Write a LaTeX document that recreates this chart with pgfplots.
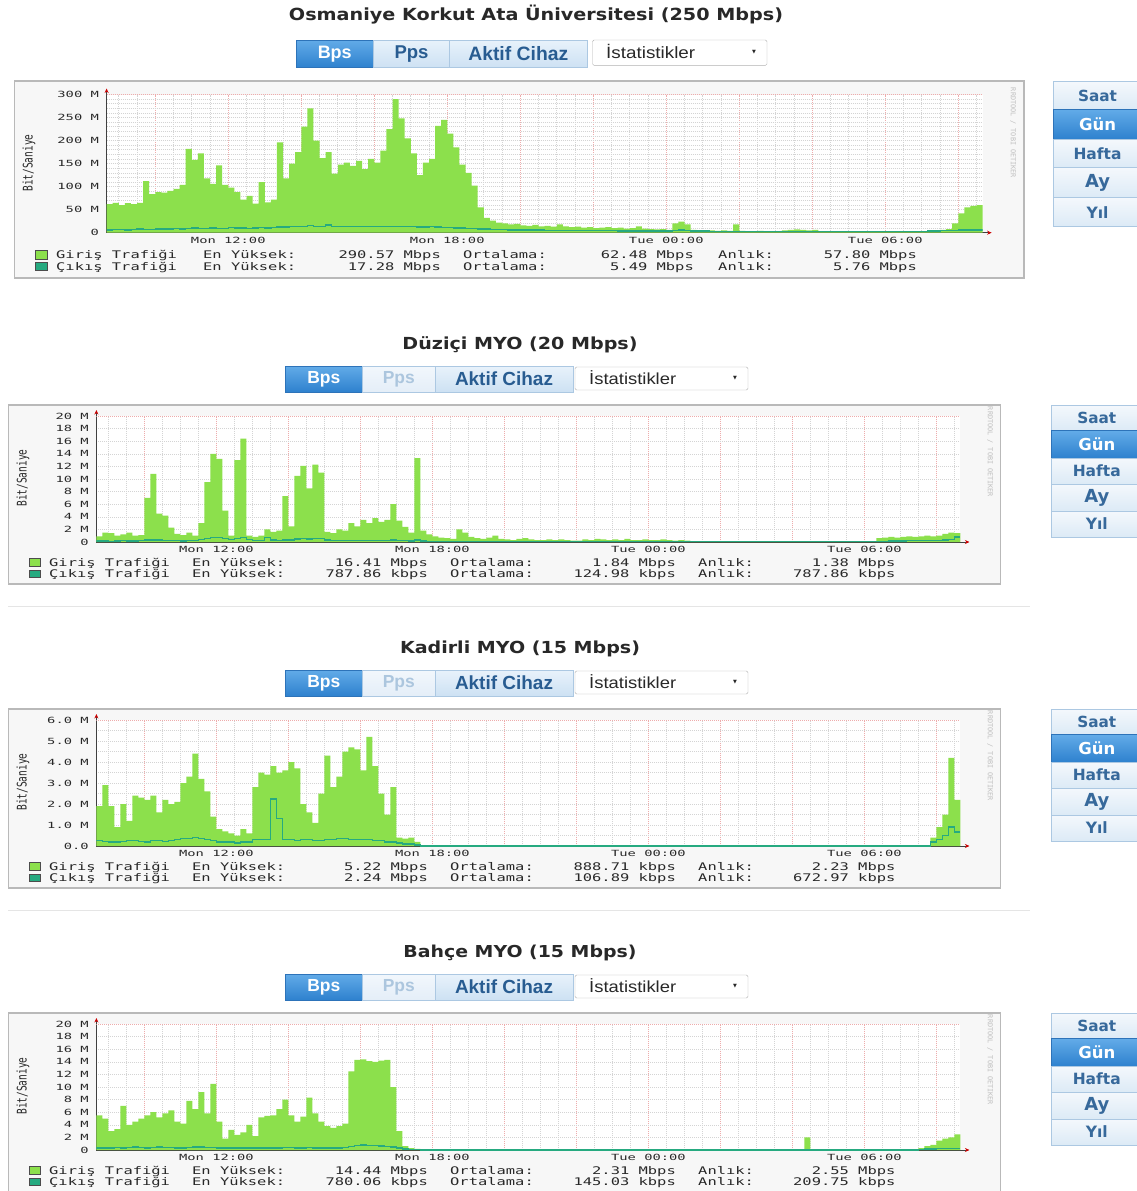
\documentclass[border=0pt]{standalone}
\usepackage{graphicx}
\usepackage{pgfplots}
\usepackage{pgfplotstable}
\pgfplotsset{compat=1.18}
\usetikzlibrary{arrows.meta}
\usepackage{fontspec}
\setmainfont{DejaVu Sans}
\newfontfamily\legf[FakeStretch=1.47]{DejaVu Sans Mono}
\newfontfamily\tickf[FakeStretch=1.62]{DejaVu Sans Mono}
\newfontfamily\monof{DejaVu Sans Mono}
\newfontfamily\ttlf[FakeStretch=1.15]{DejaVu Sans}
\newfontfamily\btnf[FakeStretch=1.0]{Liberation Sans}
\newfontfamily\ddf[FakeStretch=1.15]{Liberation Sans}
\newfontfamily\rbf[FakeStretch=1.0]{DejaVu Sans}
\newfontfamily\symf{DejaVu Sans}

\definecolor{gir}{RGB}{140,224,76}
\definecolor{cik}{RGB}{38,170,128}
\definecolor{majgrid}{RGB}{238,172,172}
\definecolor{mingrid}{RGB}{212,212,212}
\definecolor{framebg}{RGB}{247,247,247}
\definecolor{frameln}{RGB}{185,185,185}
\definecolor{bA1}{RGB}{98,171,232}
\definecolor{bA2}{RGB}{46,129,206}
\definecolor{bAb}{RGB}{45,115,185}
\definecolor{bL1}{RGB}{232,242,251}
\definecolor{bL2}{RGB}{205,225,243}
\definecolor{bLb}{RGB}{172,200,226}
\definecolor{bLt}{RGB}{40,92,145}
\definecolor{bD1}{RGB}{242,247,252}
\definecolor{bD2}{RGB}{228,238,248}
\definecolor{bDt}{RGB}{172,198,222}
\definecolor{bR1}{RGB}{244,248,252}
\definecolor{bR2}{RGB}{220,234,246}
\definecolor{bRt}{RGB}{55,105,155}
\definecolor{txt}{RGB}{40,40,40}

\newcommand\fitw[2]{\resizebox{#1}{!}{#2}}
\newcommand\LG{\legf\fontsize{10.5}{11}\selectfont}
\newcommand\TK{\tickf\fontsize{8.5}{9}\selectfont}
\newcommand\lt[4]{\node[anchor=#1,inner sep=0pt,text=txt] at (#2,-#3) {\LG #4};}
\newcommand\btn[8]{%
  \shade[top color=#5,bottom color=#6] (#1,-#2) rectangle (#3,-#4);
  \draw[#7,line width=0.8pt] (#1,-#2) rectangle (#3,-#4);
  \node[inner sep=0pt] at ({(#1+#3)/2},{-(#2+#4)/2}) {#8};}
% right buttons: x1, y1, y2, text, width, active
\newcommand\rb[6]{%
  \ifnum#6=1
    \btn{#1}{#2}{1142}{#3}{bA1}{bA2}{bAb}{\fitw{#5pt}{\rbf\bfseries\color{white}#4}}%
  \else
    \btn{#1}{#2}{1142}{#3}{bR1}{bR2}{bLb}{\fitw{#5pt}{\rbf\bfseries\color{bRt}#4}}%
  \fi}

% decorations of panels 2-4 (coordinates of panel 2, shifted by #1)
\newcommand\decor[9]{%
\begin{scope}[x=1pt,y=1pt,shift={(0,-#1)}]
  \node[text=txt] at (520,-345) {\fitw{#3}{\ttlf\bfseries #2}};
  \btn{285}{366}{362.6}{392}{bA1}{bA2}{bAb}{\fitw{33pt}{\btnf\bfseries\color{white}Bps}}
  \btn{362.6}{366}{435}{392}{bD1}{bD2}{bLb}{\fitw{32pt}{\btnf\bfseries\color{bDt}Pps}}
  \btn{435}{366}{573}{392}{bL1}{bL2}{bLb}{\fitw{98pt}{\btnf\bfseries\color{bLt}Aktif Cihaz}}
  \draw[fill=white,draw=black!30,rounded corners=1.5pt] (575,-367) rectangle (748,-390);
  \node[anchor=west,inner sep=0pt,text=txt] at (589,-377.5) {\fitw{87pt}{\ddf İstatistikler}};
  \node[inner sep=0pt,text=txt] at (735,-378) {\symf\fontsize{5}{5}\selectfont ▼};
  \draw[fill=framebg,draw=frameln,line width=1.3pt] (8.7,-405) rectangle (1000.7,-584);
  \node[rotate=90,text=txt] at (23,-478) {\scalebox{1}[1.4]{\monof\fontsize{9.5}{10}\selectfont Bit/Saniye}};
  \node[rotate=-90,text=black!25] at (990,-452) {\monof\fontsize{6.8}{7}\selectfont RRDTOOL / TOBI OETIKER};
  \draw[fill=gir,draw=black!70,line width=0.6pt] (29,-558.3) rectangle (40,-566);
  \draw[fill=cik,draw=black!70,line width=0.6pt] (29,-570) rectangle (40,-577.3);
  \lt{base west}{49}{566.1}{Giriş Trafiği}
  \lt{base west}{192}{566.1}{En Yüksek:}
  \lt{base east}{428}{566.1}{#4}
  \lt{base west}{450}{566.1}{Ortalama:}
  \lt{base east}{676}{566.1}{#5}
  \lt{base west}{698}{566.1}{Anlık:}
  \lt{base east}{895.6}{566.1}{#6}
  \lt{base west}{49}{577.5}{Çıkış Trafiği}
  \lt{base west}{192}{577.5}{En Yüksek:}
  \lt{base east}{428}{577.5}{#7}
  \lt{base west}{450}{577.5}{Ortalama:}
  \lt{base east}{676}{577.5}{#8}
  \lt{base west}{698}{577.5}{Anlık:}
  \lt{base east}{895.6}{577.5}{#9}
  \rb{1051.5}{405}{430.7}{Saat}{39}{0}
  \rb{1051.5}{430.7}{458}{Gün}{37}{1}
  \rb{1051.5}{458}{484}{Hafta}{48}{0}
  \rb{1051.5}{484}{511}{Ay}{25}{0}
  \rb{1051.5}{511}{537}{Yıl}{22}{0}
\end{scope}}

\pgfplotsset{rrd/.style={
  scale only axis, xmin=0, xmax=144, ymin=0,
  axis lines=left,
  axis background/.style={fill=white},
  axis line style={draw=black!75, line width=0.7pt},
  x axis line style={-{Stealth[length=4.5pt,width=4pt,color=red!80!black]}, shorten >=-9pt},
  y axis line style={-{Stealth[length=4.5pt,width=4pt,color=red!80!black]}, shorten >=-6pt},
  major tick length=0pt, minor tick length=0pt,
  xtick={8,20,...,140},
  xticklabels={,Mon 12:00,,,Mon 18:00,,,Tue 00:00,,,Tue 06:00,},
  minor xtick={2,5,...,143},
  xmajorgrids, xminorgrids, ymajorgrids, yminorgrids,
  major x grid style={draw=majgrid, dash pattern=on 1pt off 1pt, line width=0.6pt},
  minor x grid style={draw=mingrid, dash pattern=on 1pt off 1pt, line width=0.6pt},
  major y grid style={draw=mingrid, dash pattern=on 1pt off 1pt, line width=0.6pt},
  minor y grid style={draw=mingrid, dash pattern=on 1pt off 1pt, line width=0.6pt},
  xticklabel style={font=\TK, text=txt, inner sep=0pt, yshift=-4.3pt},
  yticklabel style={font=\TK, text=txt, inner sep=0pt, xshift=-7.5pt},
}}
\newcommand\plotdata[1]{%
  \addplot[const plot, fill=gir, draw=none] table[x index=0,y index=1] {#1} \closedcycle;
  \addplot[const plot, draw=cik, line width=1.4pt] table[x index=0,y index=2] {#1};}

% columns: 10-minute step index (0 = Mon 08:40), Giris (M), Cikis (M)
\pgfplotstableread[row sep=\\,header=false]{
0 62 6\\ 1 65 7\\ 2 60 7\\ 3 64 6\\ 4 62 7\\ 5 65 8\\ 6 112 7\\ 7 84 7\\ 8 88 8\\ 9 87 8\\
10 91 8\\ 11 95 9\\ 12 104 8\\ 13 182 9\\ 14 158 10\\ 15 172 9\\ 16 118 9\\ 17 106 10\\ 18 146 9\\ 19 104 9\\
20 98 11\\ 21 88 10\\ 22 72 10\\ 23 80 9\\ 24 63 10\\ 25 110 11\\ 26 66 10\\ 27 72 11\\ 28 196 12\\ 29 118 12\\
30 150 13\\ 31 175 13\\ 32 230 14\\ 33 270 15\\ 34 200 14\\ 35 162 13\\ 36 175 17\\ 37 128 14\\ 38 148 13\\ 39 152 13\\
40 145 13\\ 41 156 14\\ 42 138 13\\ 43 160 13\\ 44 152 14\\ 45 178 14\\ 46 225 13\\ 47 290 13\\ 48 248 13\\ 49 205 14\\
50 172 13\\ 51 125 12\\ 52 152 12\\ 53 160 13\\ 54 232 12\\ 55 245 11\\ 56 215 11\\ 57 185 10\\ 58 148 10\\ 59 130 9\\
60 102 9\\ 61 55 8\\ 62 32 8\\ 63 26 7\\ 64 22 7\\ 65 20 7\\ 66 18 6\\ 67 19 6\\ 68 16 6\\ 69 15 6\\
70 17 6\\ 71 14 6\\ 72 15 5\\ 73 13 5\\ 74 18 5\\ 75 14 5\\ 76 12 5\\ 77 13 5\\ 78 11 5\\ 79 12 5\\
80 10 5\\ 81 11 5\\ 82 12 5\\ 83 10 5\\ 84 11 4\\ 85 9 4\\ 86 10 4\\ 87 14 4\\ 88 9 4\\ 89 8 4\\
90 7 4\\ 91 8 4\\ 92 6 4\\ 93 20 5\\ 94 24 6\\ 95 18 5\\ 96 6 4\\ 97 5 4\\ 98 4 4\\ 99 5 3\\
100 4 3\\ 101 5 3\\ 102 4 3\\ 103 18 3\\ 104 4 3\\ 105 3 3\\ 106 3 3\\ 107 4 3\\ 108 3 3\\ 109 3 3\\
110 2 3\\ 111 5 3\\ 112 6 3\\ 113 7 3\\ 114 6 3\\ 115 5 3\\ 116 6 3\\ 117 3 3\\ 118 2 3\\ 119 2 3\\
120 3 3\\ 121 2 3\\ 122 2 3\\ 123 2 3\\ 124 2 3\\ 125 3 3\\ 126 2 3\\ 127 2 3\\ 128 2 3\\ 129 2 3\\
130 3 3\\ 131 2 3\\ 132 3 3\\ 133 2 3\\ 134 3 3\\ 135 4 4\\ 136 5 4\\ 137 6 5\\ 138 8 5\\ 139 20 5\\
140 42 6\\ 141 55 6\\ 142 58 6\\ 143 60 6\\ 144 60 6\\
}\tabA

\pgfplotstableread[row sep=\\,header=false]{
0 0.9 0.15\\ 1 1.5 0.15\\ 2 1.4 0.1\\ 3 1.0 0.15\\ 4 1.2 0.2\\ 5 1.5 0.15\\ 6 1.0 0.15\\ 7 1.1 0.2\\ 8 7.0 0.3\\ 9 10.8 0.35\\
10 4.5 0.3\\ 11 4.2 0.25\\ 12 2.3 0.2\\ 13 1.3 0.2\\ 14 1.1 0.15\\ 15 1.5 0.2\\ 16 1.0 0.2\\ 17 3.0 0.4\\ 18 9.5 0.6\\ 19 14.0 0.7\\
20 13.2 0.7\\ 21 5.0 0.6\\ 22 1.0 0.4\\ 23 13.0 0.6\\ 24 16.4 0.7\\ 25 1.0 0.4\\ 26 0.8 0.2\\ 27 1.0 0.2\\ 28 2.0 0.7\\ 29 1.6 0.3\\
30 1.8 0.25\\ 31 7.3 0.3\\ 32 2.5 0.3\\ 33 10.5 0.5\\ 34 12.1 0.6\\ 35 8.5 0.5\\ 36 12.3 0.6\\ 37 11.0 0.6\\ 38 1.6 0.3\\ 39 1.4 0.2\\
40 2.0 0.2\\ 41 1.8 0.2\\ 42 3.0 0.25\\ 43 2.5 0.2\\ 44 3.5 0.2\\ 45 3.0 0.25\\ 46 3.8 0.2\\ 47 3.2 0.2\\ 48 3.5 0.2\\ 49 6.0 0.3\\
50 3.4 0.2\\ 51 2.4 0.2\\ 52 1.5 0.15\\ 53 13.3 0.3\\ 54 1.8 0.15\\ 55 1.2 0.1\\ 56 0.9 0.1\\ 57 0.7 0.1\\ 58 0.6 0.1\\ 59 0.5 0.1\\
60 2.0 0.05\\ 61 1.5 0.05\\ 62 0.8 0.05\\ 63 0.6 0.05\\ 64 0.5 0.05\\ 65 0.7 0.05\\ 66 1.0 0.05\\ 67 0.5 0.05\\ 68 0.4 0.05\\ 69 0.3 0.05\\
70 0.5 0.05\\ 71 0.6 0.05\\ 72 0.4 0.05\\ 73 0.3 0.05\\ 74 0.3 0.05\\ 75 0.4 0.05\\ 76 0.3 0.05\\ 77 0.4 0.05\\ 78 0.3 0.05\\ 79 0.2 0.05\\
80 0.2 0.05\\ 81 0.4 0.05\\ 82 0.3 0.05\\ 83 0.5 0.05\\ 84 0.4 0.05\\ 85 0.3 0.05\\ 86 0.4 0.05\\ 87 0.3 0.05\\ 88 0.5 0.05\\ 89 0.3 0.05\\
90 0.3 0.05\\ 91 0.4 0.05\\ 92 0.3 0.05\\ 93 0.3 0.05\\ 94 0.4 0.05\\ 95 0.3 0.05\\ 96 0.2 0.05\\ 97 0.3 0.05\\ 98 0.2 0.05\\ 99 0.1 0.05\\
130 0.6 0.1\\ 131 0.7 0.1\\ 132 0.8 0.15\\ 133 0.7 0.15\\ 134 0.8 0.15\\ 135 0.9 0.2\\ 136 0.8 0.2\\ 137 0.9 0.2\\ 138 1.0 0.2\\ 139 0.9 0.2\\
140 1.0 0.25\\ 141 1.3 0.3\\ 142 1.5 0.4\\ 143 1.4 0.79\\ 144 1.4 0.79\\
}\tabB

\pgfplotstableread[row sep=\\,header=false]{
0 1.9 0.25\\ 1 2.9 0.22\\ 2 1.9 0.2\\ 3 0.9 0.2\\ 4 2.0 0.22\\ 5 1.2 0.25\\ 6 2.4 0.25\\ 7 2.3 0.22\\ 8 2.2 0.2\\ 9 2.4 0.25\\
10 1.6 0.25\\ 11 2.2 0.22\\ 12 2.0 0.25\\ 13 2.1 0.3\\ 14 3.0 0.35\\ 15 3.3 0.35\\ 16 4.4 0.4\\ 17 3.2 0.35\\ 18 2.6 0.3\\ 19 1.4 0.25\\
20 0.8 0.2\\ 21 0.7 0.2\\ 22 0.6 0.2\\ 23 0.5 0.15\\ 24 0.8 0.2\\ 25 0.6 0.2\\ 26 2.8 0.3\\ 27 3.5 0.3\\ 28 3.4 0.3\\ 29 3.8 2.24\\
30 3.5 1.3\\ 31 3.6 0.3\\ 32 4.0 0.3\\ 33 3.7 0.25\\ 34 2.0 0.3\\ 35 1.6 0.3\\ 36 1.1 0.25\\ 37 2.5 0.25\\ 38 4.3 0.3\\ 39 2.8 0.3\\
40 3.3 0.35\\ 41 4.5 0.35\\ 42 4.7 0.3\\ 43 4.6 0.3\\ 44 3.6 0.3\\ 45 5.2 0.3\\ 46 3.8 0.25\\ 47 2.5 0.25\\ 48 1.5 0.2\\ 49 2.8 0.2\\
50 0.4 0.15\\ 51 0.35 0.1\\ 52 0.4 0.1\\ 53 0.2 0.05\\ 54 0 0\\
139 0.4 0.2\\ 140 0.9 0.3\\ 141 1.5 0.5\\ 142 4.2 0.9\\ 143 2.2 0.67\\ 144 2.2 0.67\\
}\tabC

\pgfplotstableread[row sep=\\,header=false]{
0 5.5 0.35\\ 1 5.0 0.3\\ 2 3.0 0.35\\ 3 3.3 0.4\\ 4 7.0 0.35\\ 5 4.0 0.4\\ 6 4.5 0.45\\ 7 5.0 0.4\\ 8 5.5 0.35\\ 9 6.0 0.4\\
10 5.2 0.45\\ 11 5.8 0.4\\ 12 6.3 0.4\\ 13 4.5 0.35\\ 14 4.2 0.35\\ 15 7.8 0.4\\ 16 6.5 0.45\\ 17 9.2 0.45\\ 18 5.8 0.4\\ 19 10.5 0.4\\
20 4.5 0.3\\ 21 1.8 0.3\\ 22 3.2 0.3\\ 23 2.4 0.35\\ 24 2.8 0.3\\ 25 4.0 0.3\\ 26 2.2 0.3\\ 27 5.2 0.35\\ 28 5.4 0.35\\ 29 5.5 0.35\\
30 6.5 0.35\\ 31 8.0 0.4\\ 32 5.5 0.4\\ 33 4.5 0.35\\ 34 5.3 0.35\\ 35 8.3 0.4\\ 36 5.8 0.35\\ 37 4.5 0.35\\ 38 3.8 0.3\\ 39 3.5 0.35\\
40 3.8 0.35\\ 41 4.2 0.4\\ 42 12.5 0.6\\ 43 14.3 0.7\\ 44 14.4 0.78\\ 45 14.1 0.75\\ 46 14.0 0.7\\ 47 14.2 0.65\\ 48 14.3 0.6\\ 49 10.0 0.5\\
50 3.0 0.3\\ 51 0.6 0.15\\ 52 0.3 0.1\\ 53 0.2 0.05\\ 54 0 0\\ 118 2.0 0\\ 119 0 0\\
137 0.3 0.1\\ 138 0.6 0.15\\ 139 0.8 0.15\\ 140 1.5 0.2\\ 141 1.8 0.2\\ 142 2.0 0.2\\ 143 2.5 0.21\\ 144 2.5 0.21\\
}\tabD

\begin{document}
\begin{tikzpicture}
\useasboundingbox (0pt,0pt) rectangle (1137pt,-1191pt);
\clip (0pt,0pt) rectangle (1137pt,-1191pt);
\fill[white] (0pt,0pt) rectangle (1137pt,-1191pt);

% ---------------- Panel 1 ----------------
\begin{scope}[x=1pt,y=1pt]
\node[text=txt] at (536,-15) {\fitw{494pt}{\ttlf\bfseries Osmaniye Korkut Ata Üniversitesi (250 Mbps)}};
\btn{296}{40}{373.5}{67.7}{bA1}{bA2}{bAb}{\fitw{34pt}{\btnf\bfseries\color{white}Bps}}
\btn{373.5}{40}{449.6}{67.7}{bL1}{bL2}{bLb}{\fitw{34pt}{\btnf\bfseries\color{bLt}Pps}}
\btn{449.6}{40}{587}{67.7}{bL1}{bL2}{bLb}{\fitw{100pt}{\btnf\bfseries\color{bLt}Aktif Cihaz}}
\draw[fill=white,draw=black!30,rounded corners=1.5pt] (592.5,-40) rectangle (767,-65.3);
\node[anchor=west,inner sep=0pt,text=txt] at (606,-51.5) {\fitw{89pt}{\ddf İstatistikler}};
\node[inner sep=0pt,text=txt] at (754,-52) {\symf\fontsize{5}{5}\selectfont ▼};
\draw[fill=framebg,draw=frameln,line width=1.3pt] (14.5,-81) rectangle (1024,-278);
\node[rotate=90,text=txt] at (29,-163) {\scalebox{1}[1.4]{\monof\fontsize{9.5}{10}\selectfont Bit/Saniye}};
\node[rotate=-90,text=black!25] at (1013,-133) {\monof\fontsize{6.8}{7}\selectfont RRDTOOL / TOBI OETIKER};
\draw[fill=gir,draw=black!70,line width=0.6pt] (35,-250.7) rectangle (47,-259.3);
\draw[fill=cik,draw=black!70,line width=0.6pt] (35,-262.7) rectangle (47,-270.7);
\lt{base west}{56}{258.8}{Giriş Trafiği}
\lt{base west}{203}{258.8}{En Yüksek:}
\lt{base east}{441}{258.8}{290.57 Mbps}
\lt{base west}{463}{258.8}{Ortalama:}
\lt{base east}{694}{258.8}{62.48 Mbps}
\lt{base west}{718}{258.8}{Anlık:}
\lt{base east}{917}{258.8}{57.80 Mbps}
\lt{base west}{56}{270.5}{Çıkış Trafiği}
\lt{base west}{203}{270.5}{En Yüksek:}
\lt{base east}{441}{270.5}{17.28 Mbps}
\lt{base west}{463}{270.5}{Ortalama:}
\lt{base east}{694}{270.5}{5.49 Mbps}
\lt{base west}{718}{270.5}{Anlık:}
\lt{base east}{917}{270.5}{5.76 Mbps}
\rb{1053}{81.7}{109.3}{Saat}{39}{0}
\rb{1053}{109.3}{139.3}{Gün}{37}{1}
\rb{1053}{139.3}{167.7}{Hafta}{48}{0}
\rb{1053}{167.7}{197.7}{Ay}{25}{0}
\rb{1053}{197.7}{226.7}{Yıl}{22}{0}
\draw[black!10,line width=1pt] (8,-606.5) -- (1030,-606.5);
\draw[black!10,line width=1pt] (8,-910.5) -- (1030,-910.5);
\end{scope}

\begin{axis}[rrd, at={(106.6pt,-232.7pt)}, anchor=south west, width=876pt, height=138.2pt,
  ymax=300, ytick={0,50,...,300}, yticklabels={0,50 M,100 M,150 M,200 M,250 M,300 M},
  minor y tick num=4]
  \draw[majgrid, dash pattern=on 1pt off 1pt, line width=0.6pt] (axis cs:0,300) -- (axis cs:144,300);
  \plotdata{\tabA}
\end{axis}

% ---------------- Panel 2 ----------------
\decor{0}{Düziçi MYO (20 Mbps)}{235pt}{16.41 Mbps}{1.84 Mbps}{1.38 Mbps}{787.86 kbps}{124.98 kbps}{787.86 kbps}
\begin{axis}[rrd, at={(96.4pt,-542pt)}, anchor=south west, width=864pt, height=126pt,
  ymax=20, ytick={0,2,...,20}, yticklabels={0,2 M,4 M,6 M,8 M,10 M,12 M,14 M,16 M,18 M,20 M}]
  \draw[majgrid, dash pattern=on 1pt off 1pt, line width=0.6pt] (axis cs:0,20) -- (axis cs:144,20);
  \plotdata{\tabB}
\end{axis}

% ---------------- Panel 3 ----------------
\decor{304}{Kadirli MYO (15 Mbps)}{240pt}{5.22 Mbps}{888.71 kbps}{2.23 Mbps}{2.24 Mbps}{106.89 kbps}{672.97 kbps}
\begin{axis}[rrd, at={(96.4pt,-846pt)}, anchor=south west, width=864pt, height=126pt,
  ymax=6, ytick={0,1,...,6}, yticklabels={0.0,1.0 M,2.0 M,3.0 M,4.0 M,5.0 M,6.0 M},
  minor y tick num=1]
  \draw[majgrid, dash pattern=on 1pt off 1pt, line width=0.6pt] (axis cs:0,6) -- (axis cs:144,6);
  \plotdata{\tabC}
\end{axis}

% ---------------- Panel 4 ----------------
\decor{608}{Bahçe MYO (15 Mbps)}{233pt}{14.44 Mbps}{2.31 Mbps}{2.55 Mbps}{780.06 kbps}{145.03 kbps}{209.75 kbps}
\begin{axis}[rrd, at={(96.4pt,-1150pt)}, anchor=south west, width=864pt, height=126pt,
  ymax=20, ytick={0,2,...,20}, yticklabels={0,2 M,4 M,6 M,8 M,10 M,12 M,14 M,16 M,18 M,20 M}]
  \draw[majgrid, dash pattern=on 1pt off 1pt, line width=0.6pt] (axis cs:0,20) -- (axis cs:144,20);
  \plotdata{\tabD}
\end{axis}
\end{tikzpicture}
\end{document}
